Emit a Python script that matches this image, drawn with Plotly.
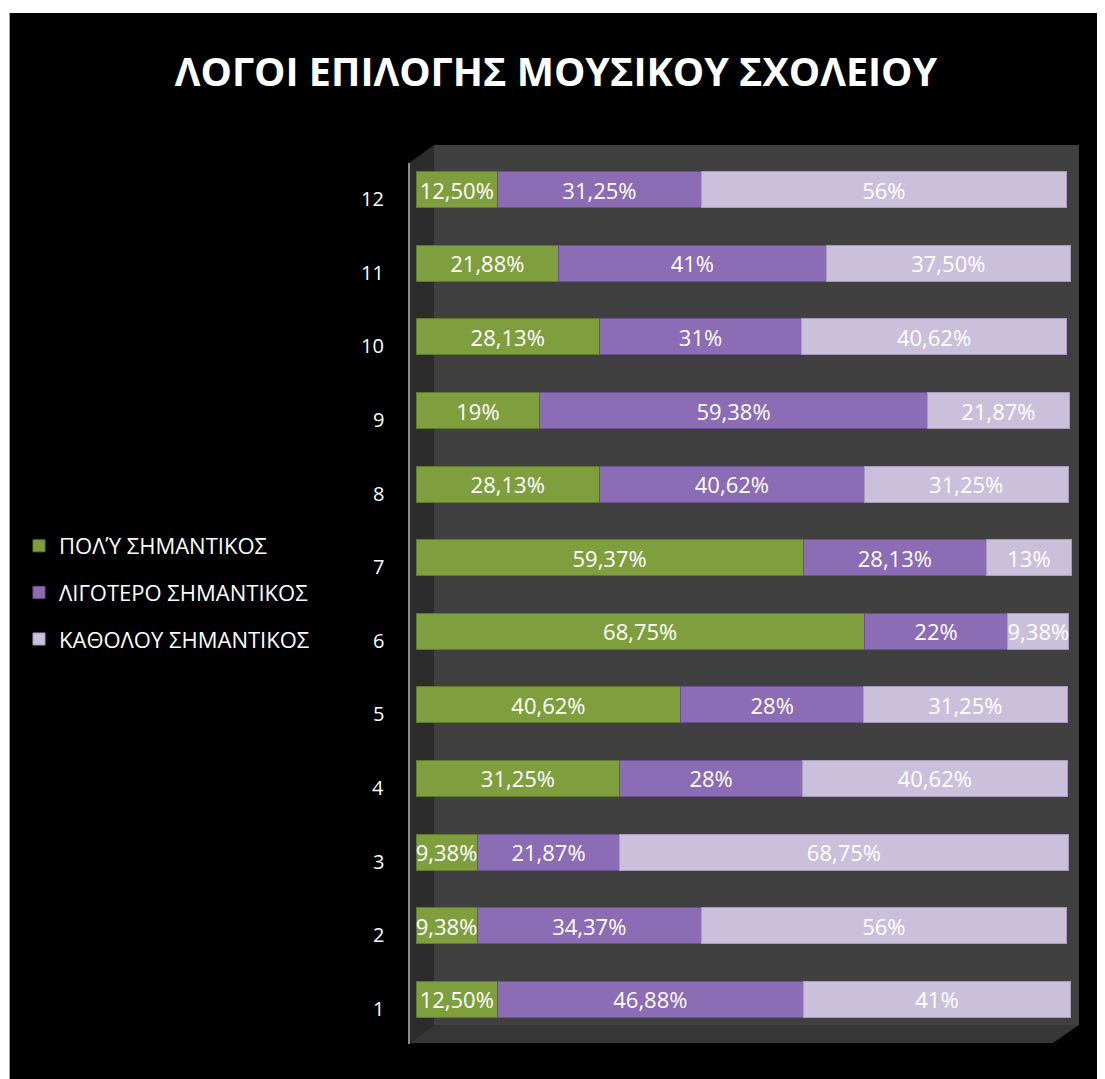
import plotly.graph_objects as go

categories = ["1", "2", "3", "4", "5", "6", "7", "8", "9", "10", "11", "12"]
series_names = ["ΠΟΛΎ ΣΗΜΑΝΤΙΚΟΣ", "ΛΙΓΟΤΕΡΟ ΣΗΜΑΝΤΙΚΟΣ", "ΚΑΘΟΛΟΥ ΣΗΜΑΝΤΙΚΟΣ"]
poly = [12.50, 9.38, 9.38, 31.25, 40.62, 68.75, 59.37, 28.13, 19, 28.13, 21.88, 12.50]
ligotero = [46.88, 34.37, 21.87, 28, 28, 22, 28.13, 40.62, 59.38, 31, 41, 31.25]
katholou = [41, 56, 68.75, 40.62, 31.25, 9.38, 13, 31.25, 21.87, 40.62, 37.50, 56]
poly_labels = ["12,50%", "9,38%", "9,38%", "31,25%", "40,62%", "68,75%", "59,37%", "28,13%", "19%", "28,13%", "21,88%", "12,50%"]
ligotero_labels = ["46,88%", "34,37%", "21,87%", "28%", "28%", "22%", "28,13%", "40,62%", "59,38%", "31%", "41%", "31,25%"]
katholou_labels = ["41%", "56%", "68,75%", "40,62%", "31,25%", "9,38%", "13%", "31,25%", "21,87%", "40,62%", "37,50%", "56%"]
title_text = "ΛΟΓΟΙ ΕΠΙΛΟΓΗΣ ΜΟΥΣΙΚΟΥ ΣΧΟΛΕΙΟΥ"

colors = ["#7f9f3e", "#8c6cb4", "#cac0dc"]
line_colors = ["#5f7a2a", "#6a5090", "#a89cbc"]

# page body has an 8px margin; work in screen coordinates
OFF = 8
W, H = 1097, 1071
ML, MR, MT, MB = 407, 33, 145, 43
PW, PH = W - ML - MR, H - MT - MB

def px(sx):
    return (sx - OFF - ML) / PW

def py(sy):
    return (H - MB - (sy - OFF)) / PH

fig = go.Figure()
for vals, labels, name, c, lc, g in zip([poly, ligotero, katholou],
                                     [poly_labels, ligotero_labels, katholou_labels],
                                     series_names, colors, line_colors, ["a", "b", "c"]):
    fig.add_trace(go.Bar(
        y=categories, x=vals, orientation="h", name=name,
        text=labels, textposition="inside", insidetextanchor="middle",
        textfont=dict(color="white", size=22, family="Open Sans"),
        marker=dict(color=c, line=dict(color=lc, width=1)),
        legendgroup=g, cliponaxis=False,
    ))

shapes = []
# black card (white strip at top)
shapes.append(dict(type="rect", xref="paper", yref="paper", x0=px(8), x1=px(1130), y0=py(13), y1=py(1100),
                   fillcolor="black", line=dict(width=0), layer="below"))
# back wall
shapes.append(dict(type="rect", xref="paper", yref="paper", x0=px(433), x1=px(1079), y0=py(1025), y1=py(145),
                   fillcolor="#404040", line=dict(width=0), layer="below"))
# left side wall
shapes.append(dict(type="path", xref="paper", yref="paper",
                   path=f"M {px(408)} {py(163)} L {px(433)} {py(145)} L {px(433)} {py(1025)} L {px(408)} {py(1043)} Z",
                   fillcolor="#2c2c2c", line=dict(width=0), layer="below"))
# floor
shapes.append(dict(type="path", xref="paper", yref="paper",
                   path=f"M {px(408)} {py(1043)} L {px(433)} {py(1025)} L {px(1079)} {py(1025)} L {px(1053)} {py(1043)} Z",
                   fillcolor="#363636", line=dict(width=0), layer="below"))
# axis line
shapes.append(dict(type="line", xref="paper", yref="paper", x0=px(408), x1=px(408), y0=py(163), y1=py(1044),
                   line=dict(color="#8c8c8c", width=2), layer="below"))

annotations = []
for i, c in enumerate(categories):
    annotations.append(dict(x=px(385), xref="paper", y=i, yref="y", text=c, showarrow=False,
                            xanchor="right", yanchor="middle", yshift=-9,
                            font=dict(color="white", size=20, family="Open Sans")))

fig.update_layout(
    width=W, height=H,
    margin=dict(l=ML, r=MR, t=MT, b=MB),
    paper_bgcolor="white", plot_bgcolor="rgba(0,0,0,0)",
    barmode="stack", bargap=0.51,
    title=dict(text=f"<b>{title_text}</b>", x=(556 - OFF) / W, xanchor="center", xref="container",
               y=1 - (72 - OFF) / H, yanchor="middle", yref="container",
               font=dict(color="white", size=39.5, family="Open Sans")),
    xaxis=dict(range=[0, 100.6], visible=False, fixedrange=True),
    yaxis=dict(type="category", categoryorder="array", categoryarray=categories, range=[-0.5, 11.5],
               showticklabels=False, showgrid=False, zeroline=False, showline=False),
    legend=dict(x=px(19), y=py(525), xanchor="left", yanchor="top", traceorder="grouped",
                font=dict(color="white", size=22, family="Open Sans"),
                bgcolor="rgba(0,0,0,0)", tracegroupgap=15),
    uniformtext=dict(minsize=22, mode="show"),
    shapes=shapes, annotations=annotations,
    showlegend=True,
)

fig.write_html("out.html")
